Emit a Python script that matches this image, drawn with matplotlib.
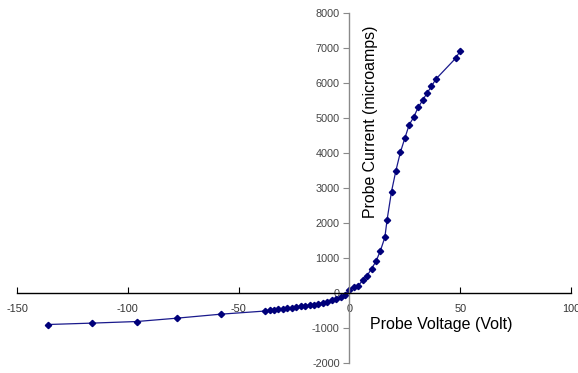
import matplotlib
matplotlib.use("Agg")
import matplotlib.pyplot as plt

plt.rcParams['font.family'] = ['Liberation Sans', 'DejaVu Sans']
plt.rcParams['axes.unicode_minus'] = False

# Probe voltage (V) and probe current (microamps)
voltage = [-136, -116, -96, -78, -58,
           -38, -36, -34, -32, -30, -28, -26, -24, -22, -20,
           -18, -16, -14, -12, -10, -8, -6, -4, -2,
           0, 2, 4, 6, 8, 10, 12, 14, 16, 17, 19, 21, 23, 25,
           27, 29, 31, 33, 35, 37, 39, 48, 50]
current = [-900, -860, -815, -720, -605,
           -515, -495, -475, -460, -445, -430, -415, -400, -385, -370,
           -350, -330, -305, -280, -250, -210, -160, -110, -50,
           90, 160, 210, 360, 495, 695, 905, 1210, 1590, 2090, 2900, 3500, 4020, 4420,
           4810, 5020, 5300, 5500, 5710, 5900, 6110, 6710, 6920]

x_ticks = [-150, -100, -50, 0, 50, 100]
y_ticks = [-2000, -1000, 0, 1000, 2000, 3000, 4000, 5000, 6000, 7000, 8000]

fig = plt.figure(figsize=(5.78, 3.73), dpi=100)
ax = fig.add_axes([17 / 578, 1 - 363 / 373, 554 / 578, 350 / 373])

ax.plot(voltage, current, color='#1a1a8c', linewidth=0.9,
        marker='D', markersize=3.2, markerfacecolor='#00007a', markeredgecolor='#00007a')

ax.set_xlim(-150, 100)
ax.set_ylim(-2000, 8000)
ax.set_xticks(x_ticks)
ax.set_yticks(y_ticks)

# spines through the origin, Excel style
ax.spines['left'].set_position(('data', 0))
ax.spines['bottom'].set_position(('data', 0))
ax.spines['right'].set_visible(False)
ax.spines['top'].set_visible(False)
ax.spines['left'].set_color('#8a8a8a')
ax.spines['bottom'].set_color('black')
ax.spines['bottom'].set_linewidth(1.0)
ax.spines['left'].set_linewidth(1.0)

ax.tick_params(axis='x', direction='in', length=4, labelsize=7.8, pad=8, colors='black',
               labelcolor='#333333')
ax.tick_params(axis='y', direction='out', length=4, labelsize=7.8, pad=3, colors='#8a8a8a',
               labelcolor='#444444')

ax.text(41.3, -910, 'Probe Voltage (Volt)', ha='center', va='center', fontsize=11.5)
ax.text(9.6, 4890, 'Probe Current (microamps)', ha='center', va='center',
        rotation=90, fontsize=11.4)

ax.patch.set_alpha(0)
fig.savefig('out.png', dpi=100)
